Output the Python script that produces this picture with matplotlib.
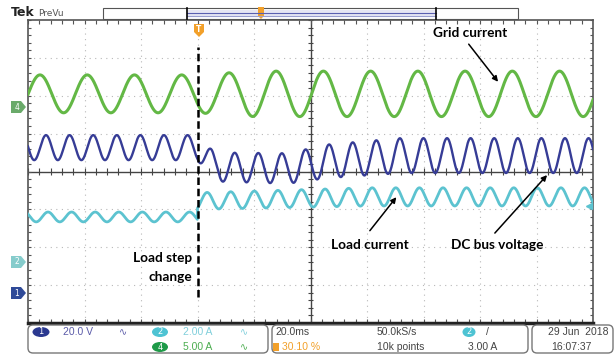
import numpy as np
import matplotlib
matplotlib.use("Agg")
import matplotlib.pyplot as plt
from matplotlib.patches import Polygon, Rectangle, FancyBboxPatch, Ellipse

# screen: 10 x 8 divisions, 20 ms/div
step_at = 3.0

# grid current (ch4, green)
green_mid = 6.05
green_period = 0.836
green_peak0 = 0.212
green_amp_x = [0.0, 3.0, 4.0, 10.0]
green_amp = [0.50, 0.50, 0.60, 0.60]

# DC bus voltage (ch1, blue)
blue_period = 0.4175
blue_peak0 = 0.319
blue_env_x = [0.0, 3.0, 3.3, 4.6, 5.3, 6.6, 10.0]
blue_mid = [4.63, 4.63, 4.12, 4.08, 4.27, 4.42, 4.42]
blue_amp = [0.33, 0.33, 0.38, 0.40, 0.44, 0.46, 0.46]

# load current (ch2, cyan)
cyan_period = 0.4175
cyan_peak0 = [0.354, 3.17]       # before / after step
cyan_env_x = [0.0, 3.0, 3.0, 6.0, 10.0]
cyan_mid = [2.80, 2.80, 3.22, 3.33, 3.33]
cyan_amp = [0.13, 0.13, 0.22, 0.24, 0.24]

C_GREEN = '#63b845'
C_BLUE = '#363c96'
C_CYAN = '#5cc3d0'
C_ORANGE = '#f2a02a'

fig = plt.figure(figsize=(6.16, 3.55), dpi=100)
ax = fig.add_axes([28/616, 32/355, 565/616, 303/355])
ax.set_xlim(0, 10)
ax.set_ylim(0, 8)
ax.set_xticks([])
ax.set_yticks([])
for s in ax.spines.values():
    s.set_color('#555555')
    s.set_linewidth(1.2)
ax.spines['bottom'].set_color('#222222')
ax.spines['bottom'].set_linewidth(2.5)

# graticule
for i in range(1, 10):
    if i != 5:
        ax.axvline(i, color='#b8b8b8', lw=0.8, ls=(0, (1, 4)), zorder=1)
for j in range(1, 8):
    if j != 4:
        ax.axhline(j, color='#b8b8b8', lw=0.8, ls=(0, (1, 4)), zorder=1)
ax.axvline(5, color='#444444', lw=1.0, zorder=1)
ax.axhline(4, color='#444444', lw=1.0, zorder=1)
mx = np.arange(0, 10.01, 0.2)
my = np.arange(0, 8.01, 0.2)
ax.vlines(mx, 4 - 0.08, 4 + 0.08, color='#444444', lw=0.8, zorder=1)
ax.hlines(my, 5 - 0.05, 5 + 0.05, color='#444444', lw=0.8, zorder=1)
ax.vlines(mx, 8 - 0.1, 8, color='#555555', lw=0.8, zorder=1)
ax.vlines(mx, 0, 0.1, color='#555555', lw=0.8, zorder=1)
ax.hlines(my, 0, 0.06, color='#555555', lw=0.8, zorder=1)
ax.hlines(my, 10 - 0.06, 10, color='#555555', lw=0.8, zorder=1)

t = np.linspace(0, 10, 3000)

g = green_mid + np.interp(t, green_amp_x, green_amp) * np.cos(2*np.pi*(t - green_peak0)/green_period)
ax.plot(t, g, color=C_GREEN, lw=2.2, zorder=3)

b = np.interp(t, blue_env_x, blue_mid) + np.interp(t, blue_env_x, blue_amp) * np.cos(2*np.pi*(t - blue_peak0)/blue_period)
ax.plot(t, b, color=C_BLUE, lw=1.7, zorder=3)

p0 = np.where(t < step_at, cyan_peak0[0], cyan_peak0[1])
cm = np.where(t < step_at, cyan_mid[0], np.interp(t, cyan_env_x[2:], cyan_mid[2:]))
ca = np.where(t < step_at, cyan_amp[0], np.interp(t, cyan_env_x[2:], cyan_amp[2:]))
c = cm + ca * np.cos(2*np.pi*(t - p0)/cyan_period)
ax.plot(t, c, color=C_CYAN, lw=2.0, zorder=3)

# step marker
ax.plot([step_at, step_at], [0.69, 7.29], color='k', lw=1.8, ls=(0, (3, 1.5)), zorder=4)
ax.plot(9.93, 3.09, marker='<', color=C_CYAN, ms=4, zorder=4, clip_on=False)

bold = dict(fontsize=9.8, fontweight='bold', family=['Lato', 'DejaVu Sans'], color='k', zorder=5)
arw = dict(arrowstyle='-|>', color='k', lw=1.1, mutation_scale=8)
ax.text(7.82, 7.66, 'Grid current', ha='center', va='center', **bold)
ax.annotate('', xy=(8.35, 6.31), xytext=(7.77, 7.42), arrowprops=arw, zorder=5)
ax.text(6.05, 2.06, 'Load current', ha='center', va='center', **bold)
ax.annotate('', xy=(6.55, 3.38), xytext=(6.02, 2.38), arrowprops=arw, zorder=5)
ax.text(8.30, 2.06, 'DC bus voltage', ha='center', va='center', **bold)
ax.annotate('', xy=(9.22, 3.96), xytext=(8.23, 2.32), arrowprops=arw, zorder=5)
ax.text(2.90, 1.72, 'Load step', ha='right', va='center', **bold)
ax.text(2.90, 1.21, 'change', ha='right', va='center', **bold)

# overlay in screen pixels for the scope decorations
ov = fig.add_axes([0, 0, 1, 1], zorder=10)
ov.set_xlim(0, 616)
ov.set_ylim(355, 0)
ov.axis('off')
ov.patch.set_visible(False)

ov.text(11, 13, 'Tek', fontsize=9, fontweight='bold', va='center', ha='left', color='#222222')
ov.text(38, 13, 'PreVu', fontsize=6.5, va='center', ha='left', color='#555555')
ov.add_patch(Rectangle((103, 8), 415, 11, fc='white', ec='#555555', lw=0.8))
ov.add_patch(Rectangle((187, 10), 249, 7, fc='#e6e6f2', ec='none'))
ov.plot([187, 436], [13, 13], color='#5a5fb0', lw=0.8)
ov.plot([187, 436], [15.5, 15.5], color='#9a9ed0', lw=0.8)
ov.plot([187, 187], [8, 19], color='k', lw=1.2)
ov.plot([436, 436], [8, 19], color='k', lw=1.2)
ov.add_patch(Polygon([(258, 7), (264, 7), (264, 16), (261, 19), (258, 16)], fc=C_ORANGE, ec='none'))
ov.add_patch(Polygon([(194, 24), (204, 24), (204, 32), (199, 37), (194, 32)], fc=C_ORANGE, ec='none'))
ov.text(199, 29.5, 'T', fontsize=5.5, fontweight='bold', color='white', ha='center', va='center')

for y, fc, lab in [(107, '#6aaa6a', '4'), (262, '#86cccc', '2'), (293, '#2f4a98', '1')]:
    ov.add_patch(Polygon([(11, y - 6), (21, y - 6), (26, y), (21, y + 6), (11, y + 6)], fc=fc, ec='none'))
    ov.text(17, y, lab, fontsize=5.5, color='white', ha='center', va='center')

# readout boxes
for x0, x1 in [(28, 268), (272, 528), (532, 613)]:
    ov.add_patch(FancyBboxPatch((x0, 325), x1 - x0, 28, boxstyle='round,pad=0,rounding_size=5',
                                fc='white', ec='#777777', lw=1.0))

small = dict(fontsize=7.5, family=['Liberation Sans', 'DejaVu Sans'], va='center', ha='left')
for (x, y, w, fc, lab) in [(41, 332, 17, '#2b3990', '1'), (160, 332, 16, '#4ec3d3', '2'),
                           (160, 347, 16, '#1e9a48', '4'), (469, 332, 13, '#4ec3d3', '2')]:
    ov.add_patch(Ellipse((x, y), w, 10, fc=fc, ec='none'))
    ov.text(x, y, lab, fontsize=6, color='white', ha='center', va='center')

ov.text(63, 332, '20.0 V', color='#5a5aa8', **small)
ov.text(119, 332, '∿', color='#5a5aa8', fontsize=7, ha='left', va='center')
ov.text(183, 332, '2.00 A', color='#80cfdb', **small)
ov.text(240, 332, '∿', color='#80cfdb', fontsize=7, ha='left', va='center')
ov.text(183, 347, '5.00 A', color='#4cad50', **small)
ov.text(240, 347, '∿', color='#4cad50', fontsize=7, ha='left', va='center')
ov.text(275, 332, '20.0ms', color='#444444', **small)
ov.add_patch(Rectangle((273, 343), 6, 8, fc=C_ORANGE, ec='none'))
ov.text(282, 347, '30.10 %', color=C_ORANGE, **small)
ov.text(377, 332, '50.0kS/s', color='#444444', **small)
ov.text(377, 347, '10k points', color='#444444', **small)
ov.text(486, 332, '/', color='#444444', **small)
ov.text(468, 347, '3.00 A', color='#444444', **small)
ov.text(548, 332, '29 Jun  2018', color='#444444', **small)
ov.text(551, 347, '16:07:37', color='#444444', **small)

plt.savefig('out.png', dpi=100)
